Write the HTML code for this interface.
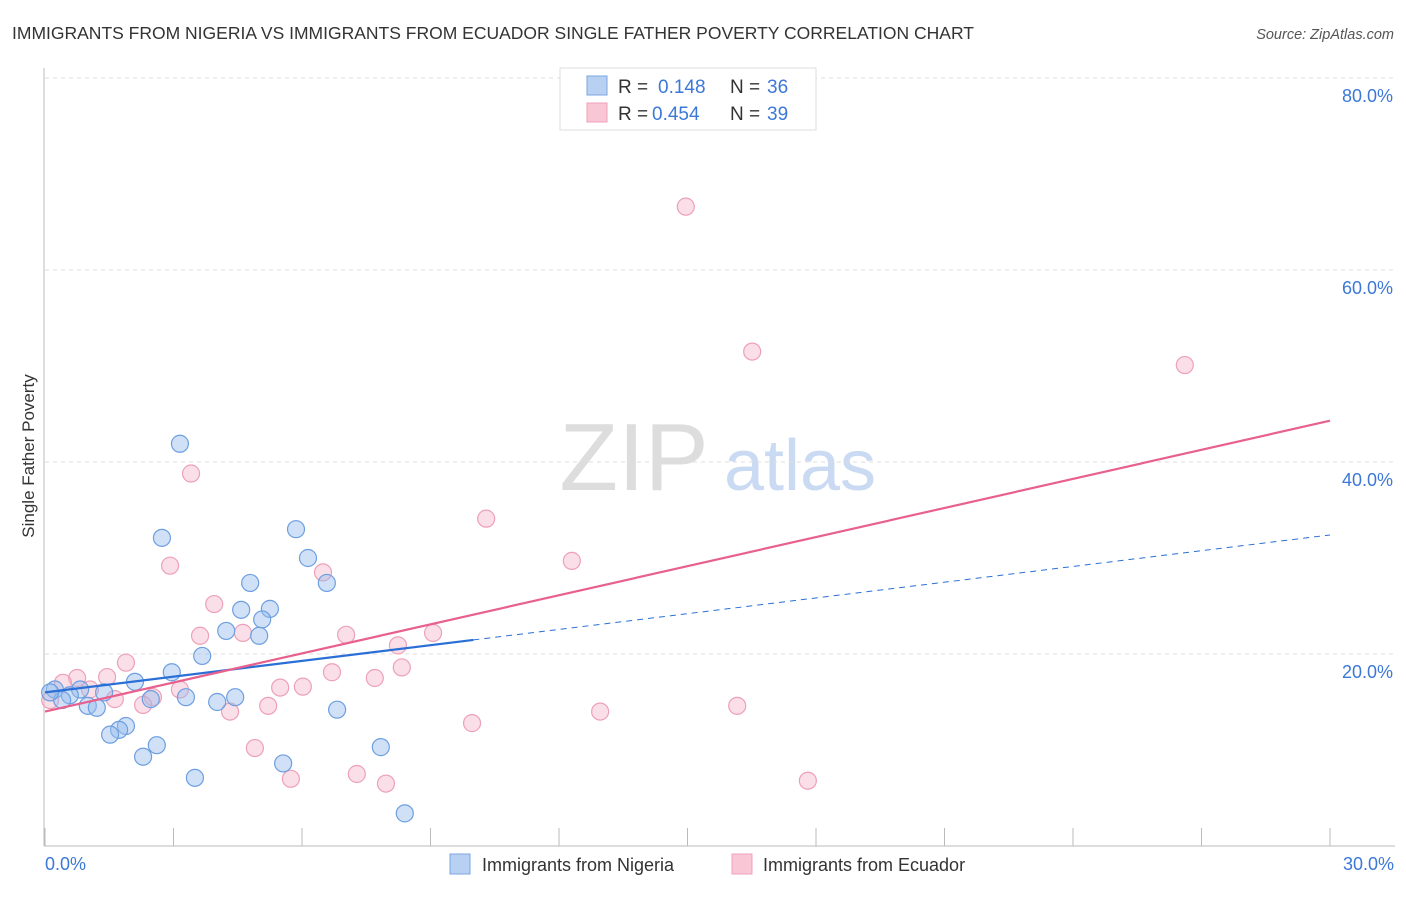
<!DOCTYPE html>
<html><head><meta charset="utf-8"><style>
body{margin:0;background:#fff;font-family:"Liberation Sans",sans-serif;}
svg text{font-family:"Liberation Sans",sans-serif;}
</style></head><body>
<svg id="chart" width="1406" height="892">
<text x="12" y="39" font-size="17.5" fill="#333">IMMIGRANTS FROM NIGERIA VS IMMIGRANTS FROM ECUADOR SINGLE FATHER POVERTY CORRELATION CHART</text>
<text x="1394" y="39" font-size="14.5" fill="#555" font-style="italic" text-anchor="end">Source: ZipAtlas.com</text>
<text transform="translate(34,456) rotate(-90)" font-size="17" fill="#333" text-anchor="middle">Single Father Poverty</text>
<g><text x="634" y="490" font-size="96" fill="#ddd" font-family="Liberation Serif,serif" text-anchor="middle">ZIP</text><text x="800" y="490" font-size="72" fill="#c9daf2" text-anchor="middle">atlas</text></g>
<g id="grid"></g><g id="axes"></g><g id="marks"></g>
<g>
<rect x="560" y="68" width="256" height="62" fill="#fff" stroke="#ddd"/>
<rect x="587" y="76" width="20" height="19" fill="#b8d1f3" stroke="#7aa6e0"/>
<rect x="587" y="103" width="20" height="19" fill="#f9c6d5" stroke="#f0a0ba"/>
<text x="618" y="93" font-size="19" fill="#333">R =</text><text x="658" y="93" font-size="19" fill="#3b78d8">0.148</text>
<text x="730" y="93" font-size="19" fill="#333">N =</text><text x="767" y="93" font-size="19" fill="#3b78d8">36</text>
<text x="618" y="120" font-size="19" fill="#333">R =</text><text x="652" y="120" font-size="19" fill="#3b78d8">0.454</text>
<text x="730" y="120" font-size="19" fill="#333">N =</text><text x="767" y="120" font-size="19" fill="#3b78d8">39</text>
</g>
<g>
<rect x="450" y="854" width="20" height="20" fill="#b8d1f3" stroke="#7aa6e0"/>
<text x="482" y="871" font-size="18" fill="#333">Immigrants from Nigeria</text>
<rect x="732" y="854" width="20" height="20" fill="#f9c6d5" stroke="#f0a0ba"/>
<text x="763" y="871" font-size="18" fill="#333">Immigrants from Ecuador</text>
</g>
</svg>
<script>
const nigeriaX=[3.15,2.73,5.86,6.14,6.58,4.79,4.58,5.25,5.07,4.23,5.00,3.67,2.96,2.10,0.82,0.23,0.58,0.40,1.00,1.21,1.38,3.29,2.47,4.02,4.44,6.82,1.89,1.73,1.52,2.61,2.29,7.84,5.56,3.50,8.40,0.12];
const nigeriaY=[41.9,32.1,33.0,30.0,27.4,27.4,24.6,24.7,23.6,22.4,21.9,19.8,18.1,17.1,16.3,16.3,15.7,15.2,14.6,14.4,16.0,15.5,15.3,15.0,15.5,14.2,12.5,12.1,11.6,10.5,9.3,10.3,8.6,7.1,3.4,16.0];
const ecuadorX=[14.96,16.51,26.61,3.41,10.30,12.30,2.92,6.49,3.95,3.62,4.62,7.03,9.06,8.24,8.33,1.89,6.70,7.70,1.45,0.75,0.42,3.15,2.52,5.49,6.02,1.63,2.29,4.32,5.21,12.96,16.16,9.97,4.90,7.28,5.74,7.96,17.81,0.12,1.05];
const ecuadorY=[66.6,51.5,50.1,38.8,34.1,29.7,29.2,28.5,25.2,21.9,22.2,22.0,22.2,20.9,18.6,19.1,18.1,17.5,17.6,17.5,17.0,16.3,15.5,16.5,16.6,15.3,14.7,14.0,14.6,14.0,14.6,12.8,10.2,7.5,7.0,6.5,6.8,15.2,16.3];
const nigeriaTrend=[16.0,32.4];
const ecuadorTrend=[14.0,44.3];
const yTicks=[20,40,60,80];
const yTickLabels=["20.0%","40.0%","60.0%","80.0%"];
const xTickLabels=["0.0%","30.0%"];
const NS="http://www.w3.org/2000/svg";
const sx=v=>45+v*1285/30, sy=v=>846-v*9.6;
function mk(tag,parent,attrs){const e=document.createElementNS(NS,tag);for(const k in attrs)e.setAttribute(k,attrs[k]);parent.appendChild(e);return e;}
const grid=document.getElementById('grid'),axes=document.getElementById('axes'),marks=document.getElementById('marks');
yTicks.forEach((t,i)=>{
 const l=mk('line',grid,{x1:45,x2:1395,y1:sy(t),y2:sy(t),stroke:'#ddd','stroke-dasharray':'4,4'});
 
 
 const tx=mk('text',axes,{x:1393,y:sy(t)+24,'font-size':18,fill:'#3b78d8','text-anchor':'end'});
 tx.textContent=yTickLabels[i];
 
 
});
const al=mk('line',axes,{x1:44,x2:44,y1:68,y2:846,stroke:'#bbb'});


const bl=mk('line',axes,{x1:44,x2:1395,y1:846,y2:846,stroke:'#bbb'});


for(let i=0;i<=10;i++){const t=mk('line',axes,{x1:sx(i*3),x2:sx(i*3),y1:828,y2:846,stroke:'#bbb'});
 
 }
const xl0=mk('text',axes,{x:45,y:870,'font-size':18,fill:'#3b78d8'});xl0.textContent=xTickLabels[0];


const xl1=mk('text',axes,{x:1394,y:870,'font-size':18,fill:'#3b78d8','text-anchor':'end'});xl1.textContent=xTickLabels[1];


function pts(X,Y,fill,stroke,name){X.forEach((x,i)=>{const c=mk('circle',marks,{cx:sx(x),cy:sy(Y[i]),r:8.5,fill:fill,stroke:stroke,'stroke-width':1.2});
 
 });}
pts(ecuadorX,ecuadorY,'rgba(246,176,198,0.4)','#eda0b9','point-ecuador');
pts(nigeriaX,nigeriaY,'rgba(150,188,238,0.45)','#6d9fe0','point-nigeria');
const bt=v=>nigeriaTrend[0]+(nigeriaTrend[1]-nigeriaTrend[0])*v/30;
const t1=mk('line',marks,{x1:sx(0),y1:sy(bt(0)),x2:sx(10),y2:sy(bt(10)),stroke:'#2a6fd6','stroke-width':2.2});


const t2=mk('line',marks,{x1:sx(10),y1:sy(bt(10)),x2:sx(30),y2:sy(bt(30)),stroke:'#2a6fd6','stroke-width':1,'stroke-dasharray':'6,5'});


const t3=mk('line',marks,{x1:sx(0),y1:sy(ecuadorTrend[0]),x2:sx(30),y2:sy(ecuadorTrend[1]),stroke:'#e8608d','stroke-width':2.2});


</script>
</body></html>
